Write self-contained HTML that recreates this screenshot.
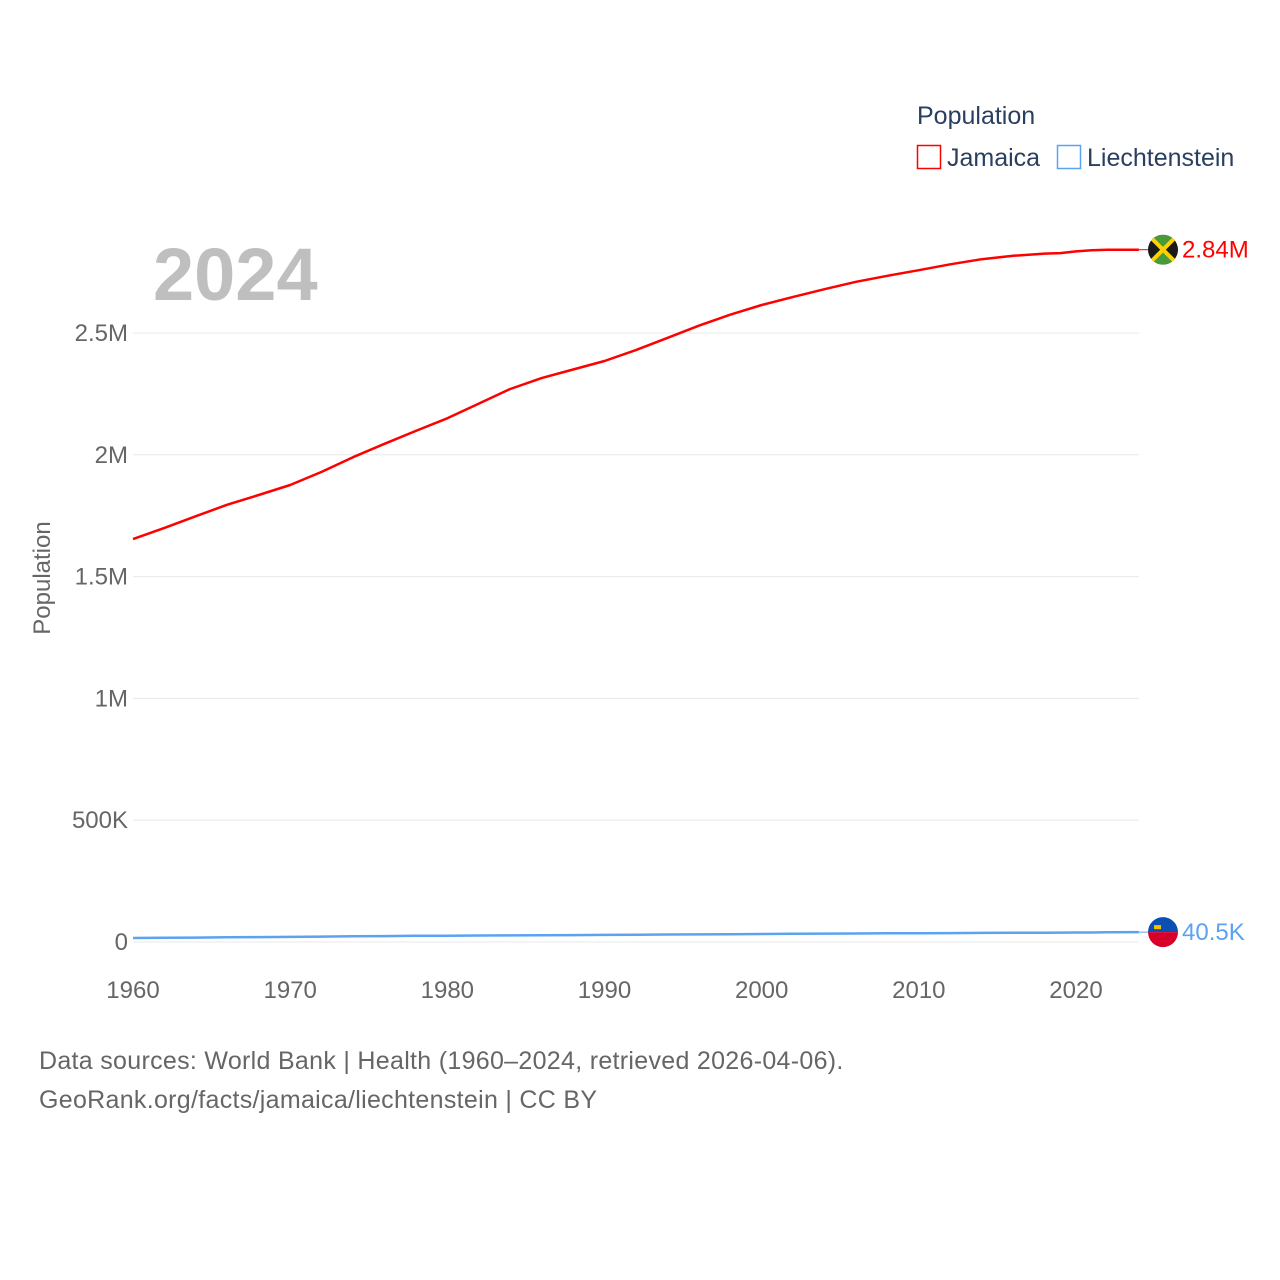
<!DOCTYPE html>
<html><head><meta charset="utf-8"><style>
body{margin:0;background:#fff;}
svg{display:block;font-family:"Liberation Sans",sans-serif;}
</style></head><body>
<svg id="chart" width="1280" height="1280">
<text x="153" y="300" font-size="74" font-weight="bold" fill="#bfbfbf">2024</text>
<g id="grid"></g>
<g id="yticks"></g>
<g id="xticks"></g>
<text transform="translate(50,578) rotate(-90)" text-anchor="middle" font-size="24" fill="#666">Population</text>
<g id="series"></g>
<g>
<text x="917" y="124" font-size="25" fill="#2a3f5f">Population</text>
<g><rect x="917.5" y="145.5" width="23" height="23" fill="none" stroke="#ff0000" stroke-width="1.5"/><text x="947" y="166" font-size="25" fill="#2a3f5f">Jamaica</text></g>
<g><rect x="1057.5" y="145.5" width="23" height="23" fill="none" stroke="#5ba3f0" stroke-width="1.5"/><text x="1087" y="166" font-size="25" fill="#2a3f5f">Liechtenstein</text></g>
</g>
<text x="39" y="1069" font-size="25" fill="#666" letter-spacing="0.3">Data sources: World Bank | Health (1960–2024, retrieved 2026-04-06).</text>
<text x="39" y="1108" font-size="25" fill="#666" letter-spacing="0.3">GeoRank.org/facts/jamaica/liechtenstein | CC BY</text>
</svg>
<script>
const years=[1960,1962,1964,1966,1968,1970,1972,1974,1976,1978,1980,1982,1984,1986,1988,1990,1992,1994,1996,1998,2000,2002,2004,2006,2008,2010,2012,2014,2016,2018,2019,2020,2021,2022,2024];
const jamaica=[1.654,1.70,1.748,1.795,1.835,1.876,1.93,1.99,2.045,2.098,2.15,2.21,2.27,2.315,2.35,2.385,2.43,2.48,2.53,2.575,2.615,2.648,2.68,2.71,2.735,2.758,2.782,2.803,2.817,2.826,2.828,2.835,2.84,2.842,2.842];
const liechtenstein=[16.5,17.3,18.2,19.1,20.1,21.0,22.0,23.2,24.4,25.3,26.0,26.6,27.2,27.9,28.5,29.1,29.8,30.6,31.3,32.0,32.8,33.6,34.4,35.0,35.6,36.1,36.6,37.2,37.7,38.2,38.4,38.8,39.2,39.7,40.5];
const yTicks=[0,500000,1000000,1500000,2000000,2500000];
const yTickLabels=["0","500K","1M","1.5M","2M","2.5M"];
const xTicks=[1960,1970,1980,1990,2000,2010,2020];
const x=v=>133+(v-1960)*943/60;
const y=v=>942-v*243.6/1e6;
const NS="http://www.w3.org/2000/svg";
function mk(t,a,p){const e=document.createElementNS(NS,t);for(const k in a)e.setAttribute(k,a[k]);p.appendChild(e);return e;}
const grid=document.getElementById('grid'),yt=document.getElementById('yticks'),xt=document.getElementById('xticks'),ser=document.getElementById('series');
yTicks.forEach((v,i)=>{
 const l=mk('line',{x1:133,x2:1139,y1:y(v),y2:y(v),stroke:'#e8e8e8','stroke-width':1},grid);
 
 
 const t=mk('text',{x:128,y:y(v)+8,'text-anchor':'end','font-size':24,fill:'#666'},yt);
 t.textContent=yTickLabels[i];
 
 
});
xTicks.forEach(v=>{
 const t=mk('text',{x:x(v),y:998,'text-anchor':'middle','font-size':24,fill:'#666'},xt);
 t.textContent=v;
 
 
});
function line(vals,scale,color,name){
 const pts=years.map((yr,i)=>x(yr).toFixed(1)+','+y(vals[i]*scale).toFixed(1)).join(' ');
 const p=mk('polyline',{points:pts,fill:'none',stroke:color,'stroke-width':2.5,'stroke-linejoin':'round'},ser);
 
 
}
line(jamaica,1e6,'#ff0000','jamaica-line');
line(liechtenstein,1e3,'#5ba3f0','liechtenstein-line');
const jy=y(jamaica[jamaica.length-1]*1e6), ly=y(liechtenstein[liechtenstein.length-1]*1e3);
mk('line',{x1:1139,x2:1150,y1:jy,y2:jy,stroke:'#ff0000','stroke-width':1},ser);
mk('line',{x1:1139,x2:1150,y1:ly,y2:ly,stroke:'#5ba3f0','stroke-width':1},ser);
const jf=mk('g',{},ser);


mk('clipPath',{id:'cj'},jf).appendChild(document.createElementNS(NS,'circle'));
const cx=1163;
jf.querySelector('circle').setAttribute('cx',cx);jf.querySelector('circle').setAttribute('cy',jy);jf.querySelector('circle').setAttribute('r',15);
const gj=mk('g',{'clip-path':'url(#cj)'},jf);
mk('rect',{x:cx-15,y:jy-15,width:30,height:30,fill:'#1a1a1a'},gj);
mk('polygon',{points:`${cx-15},${jy-15} ${cx+15},${jy-15} ${cx},${jy}`,fill:'#4a9a3a'},gj);
mk('polygon',{points:`${cx-15},${jy+15} ${cx+15},${jy+15} ${cx},${jy}`,fill:'#4a9a3a'},gj);
mk('line',{x1:cx-15,y1:jy-15,x2:cx+15,y2:jy+15,stroke:'#fed100','stroke-width':4},gj);
mk('line',{x1:cx+15,y1:jy-15,x2:cx-15,y2:jy+15,stroke:'#fed100','stroke-width':4},gj);
const jt=mk('text',{x:1182,y:jy+8,'font-size':24,fill:'#ff0000'},ser);jt.textContent='2.84M';


const lf=mk('g',{},ser);


mk('path',{d:`M${cx-15},${ly} A15,15 0 0 1 ${cx+15},${ly} Z`,fill:'#0b4fb4'},lf);
mk('path',{d:`M${cx-15},${ly} A15,15 0 0 0 ${cx+15},${ly} Z`,fill:'#d6002a'},lf);
mk('rect',{x:cx-9,y:ly-7,width:7,height:4,fill:'#f3c200'},lf);
const lt=mk('text',{x:1182,y:ly+8,'font-size':24,fill:'#5ba3f0'},ser);lt.textContent='40.5K';


</script>
</body></html>
